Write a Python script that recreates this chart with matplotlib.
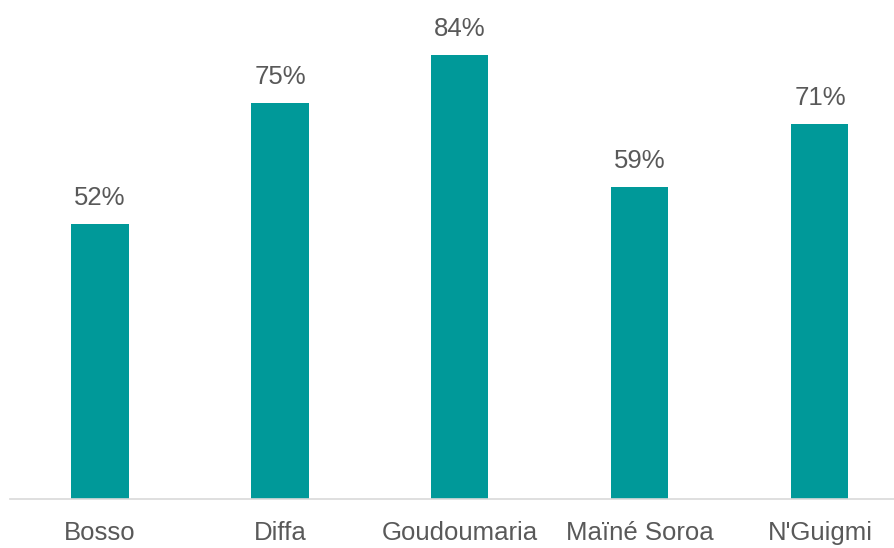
import matplotlib
matplotlib.use('Agg')
import matplotlib.pyplot as plt

districts = ['Bosso', 'Diffa', 'Goudoumaria', 'Maïné Soroa', "N'Guigmi"]
shares = [52, 75, 84, 59, 71]  # percent

BAR = '#009999'
TXT = '#595959'
plt.rcParams['font.family'] = ['Liberation Sans Narrow', 'Liberation Sans', 'DejaVu Sans']

fig = plt.figure(figsize=(8.95, 5.48), dpi=100)
ax = fig.add_axes([10 / 895, 49 / 548, 885 / 895, 499 / 548])
x = range(len(districts))
bars = ax.bar(x, shares, width=0.317, color=BAR)
for b, v in zip(bars, shares):
  ax.annotate(f'{v}%', (b.get_x() + b.get_width() / 2, v), xytext=(0, 10),
              textcoords='offset points', ha='center', va='bottom',
              fontsize=18.5, color=TXT)

ax.set_xlim(-0.5, 4.417)
ax.set_ylim(0, 94.4)
ax.set_xticks(list(x), districts, fontsize=18.5, color=TXT)
ax.tick_params(axis='x', length=0, pad=16)
ax.set_yticks([])
for s in ('top', 'right', 'left'):
  ax.spines[s].set_visible(False)
ax.spines['bottom'].set_color('#d9d9d9')
ax.spines['bottom'].set_linewidth(1.2)

fig.savefig('out.png', dpi=100)
